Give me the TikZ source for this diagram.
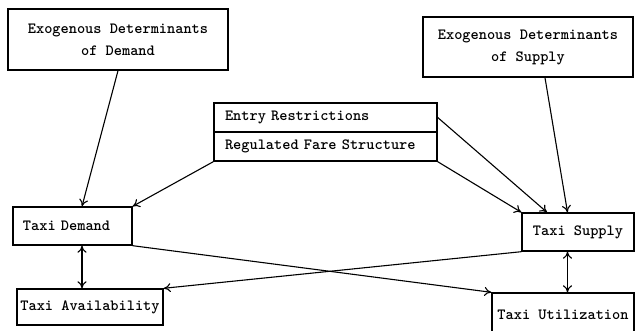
\documentclass[tikz,border=0pt]{standalone}
\usepackage{fontspec}
\usetikzlibrary{arrows.meta}

\newcommand{\boxfont}{\ttfamily\bfseries\fontsize{15.6}{22}\selectfont}

\tikzset{
  box/.style={draw, line width=1.4pt, inner sep=0pt, font=\boxfont},
  leftbox/.style={box, align=left},
  link/.style={line width=1.1pt, -{To[length=7pt,width=9pt]}},
  twolink/.style={line width=1.1pt, {To[length=7pt,width=9pt]}-{To[length=7pt,width=9pt]}},
}

\begin{document}
\begin{tikzpicture}[x=1pt, y=-1pt]

            \useasboundingbox (0,0) rectangle (635,331);

            % --------------------------------------------------
            % Exogenous boxes
            % --------------------------------------------------
            \node[box, align=center, minimum width=220pt, minimum height=61pt] (exdem) at (118,39.5)
                {Exogenous Determinants\\of Demand};
            \node[box, align=center, minimum width=210pt, minimum height=60pt] (exsup) at (528,47)
                {Exogenous Determinants\\of Supply};

            % --------------------------------------------------
            % Regulation (stacked box)
            % --------------------------------------------------
            \node[leftbox, text width=201pt, inner xsep=11pt, minimum height=29pt] (entry) at (325.5,117.5)
                {Entry Restrictions};
            \node[leftbox, text width=201pt, inner xsep=11pt, minimum height=29pt] (regfare) at (325.5,146.5)
                {Regulated Fare Structure};

            % --------------------------------------------------
            % Market boxes
            % --------------------------------------------------
            \node[leftbox, text width=99pt, inner xsep=10pt, minimum height=38pt] (taxidem) at (72.5,226)
                {Taxi Demand};
            \node[box, minimum width=146pt, minimum height=36pt] (avail) at (90,307)
                {Taxi Availability};
            \node[box, minimum width=112pt, minimum height=38pt] (taxisup) at (578,232)
                {Taxi Supply};
            \node[box, minimum width=142pt, minimum height=43pt] (util) at (563,314.5)
                {Taxi Utilization};

            % Arrows
            \draw[link] (exdem.south) -- ([xshift=9.5pt]taxidem.north);
            \draw[link] ([xshift=17pt]exsup.south) -- ([xshift=-10.5pt]taxisup.north);
            \draw[link] (entry.east) -- ([xshift=-31pt]taxisup.north);
            \draw[link] (regfare.south east) -- (taxisup.north west);
            \draw[link] (regfare.south west) -- (taxidem.north east);
            \draw[link] (taxidem.south east) -- (util.north west);
            \draw[link] (taxisup.south west) -- (avail.north east);

            \draw[twolink] ([xshift=9.5pt]taxidem.south) -- ([xshift=9.5pt]taxidem.south |- avail.north);
            \draw[twolink] ([xshift=-10.5pt]taxisup.south) -- ([xshift=-10.5pt]taxisup.south |- util.north);

\end{tikzpicture}
\end{document}
